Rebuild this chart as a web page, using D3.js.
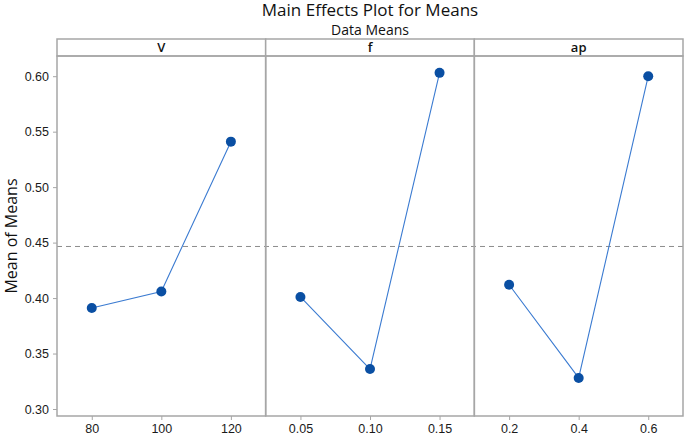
<!DOCTYPE html>
<html>
<head>
<meta charset="utf-8">
<script src="https://cdn.jsdelivr.net/npm/d3@7"></script>
<style>
  body { margin: 0; background: #fff; }
  svg { font-family: "Open Sans", "Noto Sans", sans-serif; }
</style>
</head>
<body>
<div id="chart"></div>
<script>
  var width = 685, height = 435;

  // factors and their levels
  var factors = ["V", "f", "ap"];
  var levelsV = ["80", "100", "120"];
  var levelsF = ["0.05", "0.10", "0.15"];
  var levelsAp = ["0.2", "0.4", "0.6"];
  // mean of means at each level
  var meansV = [0.391, 0.406, 0.541];
  var meansF = [0.401, 0.336, 0.603];
  var meansAp = [0.412, 0.328, 0.600];
  var grandMean = 0.4465;
  var yTicks = [0.30, 0.35, 0.40, 0.45, 0.50, 0.55, 0.60];

  var panels = [
    {name: factors[0], levels: levelsV, means: meansV},
    {name: factors[1], levels: levelsF, means: meansF},
    {name: factors[2], levels: levelsAp, means: meansAp}
  ];

  var left = 57, right = 683, stripTop = 39, plotTop = 56, plotBottom = 416;
  var panelW = (right - left) / panels.length;
  var frame = "#a6a6a6";

  var svg = d3.select("#chart").append("svg")
    .attr("width", width)
    .attr("height", height);

  var y = d3.scaleLinear()
    .domain([0.2937, 0.6182])
    .range([plotBottom, plotTop]);

  // titles
  svg.append("text")
    .attr("x", (left + right) / 2).attr("y", 16)
    .attr("text-anchor", "middle")
    .style("font-size", "17px").style("fill", "#111")
    .text("Main Effects Plot for Means");
  svg.append("text")
    .attr("x", (left + right) / 2).attr("y", 35)
    .attr("text-anchor", "middle")
    .style("font-size", "14px").style("fill", "#111")
    .text("Data Means");

  svg.append("text")
    .attr("transform", "translate(17," + (plotTop + plotBottom) / 2 + ") rotate(-90)")
    .attr("text-anchor", "middle")
    .style("font-size", "16px").style("fill", "#111")
    .text("Mean of Means");

  // y axis
  var yAxis = svg.append("g")
    .attr("transform", "translate(" + left + ",0)")
    .call(d3.axisLeft(y).tickValues(yTicks).tickFormat(d3.format(".2f")).tickSize(4).tickPadding(4));
  yAxis.select(".domain").remove();
  yAxis.selectAll("line").attr("stroke", frame);
  yAxis.selectAll("text").style("font-size", "12.5px").style("fill", "#1a1a1a");

  // dashed grand mean line across all panels
  svg.append("line")
    .attr("x1", left).attr("x2", right)
    .attr("y1", y(grandMean)).attr("y2", y(grandMean))
    .attr("stroke", "#8c8c8c").attr("stroke-width", 1)
    .attr("stroke-dasharray", "5,4");

  panels.forEach(function(p, i) {
    var x0 = left + i * panelW;
    var x = d3.scalePoint()
      .domain(p.levels)
      .range([x0, x0 + panelW])
      .padding(0.5);

    var g = svg.append("g");

    // strip
    g.append("rect")
      .attr("x", x0).attr("y", stripTop)
      .attr("width", panelW).attr("height", plotTop - stripTop)
      .attr("fill", "#fff").attr("stroke", frame).attr("stroke-width", 1.5);
    g.append("text")
      .attr("x", x0 + panelW / 2).attr("y", plotTop - 4)
      .attr("text-anchor", "middle")
      .style("font-size", "13px").style("font-weight", "600").style("fill", "#111")
      .text(p.name);

    // panel box
    g.append("rect")
      .attr("x", x0).attr("y", plotTop)
      .attr("width", panelW).attr("height", plotBottom - plotTop)
      .attr("fill", "none").attr("stroke", frame).attr("stroke-width", 1.5);

    // x axis
    var xa = g.append("g")
      .attr("transform", "translate(0," + plotBottom + ")")
      .call(d3.axisBottom(x).tickSize(4).tickPadding(4));
    xa.select(".domain").remove();
    xa.selectAll("line").attr("stroke", frame);
    xa.selectAll("text").style("font-size", "12.5px").style("fill", "#1a1a1a");

    var pts = p.levels.map(function(l, j) { return [l, p.means[j]]; });

    g.append("path")
      .datum(pts)
      .attr("fill", "none")
      .attr("stroke", "#3b7bd1")
      .attr("stroke-width", 1.1)
      .attr("d", d3.line()
        .x(function(d) { return x(d[0]); })
        .y(function(d) { return y(d[1]); }));

    g.selectAll("circle")
      .data(pts)
      .enter().append("circle")
      .attr("cx", function(d) { return x(d[0]); })
      .attr("cy", function(d) { return y(d[1]); })
      .attr("r", 5)
      .attr("fill", "#0a4fa3");
  });
</script>
</body>
</html>
